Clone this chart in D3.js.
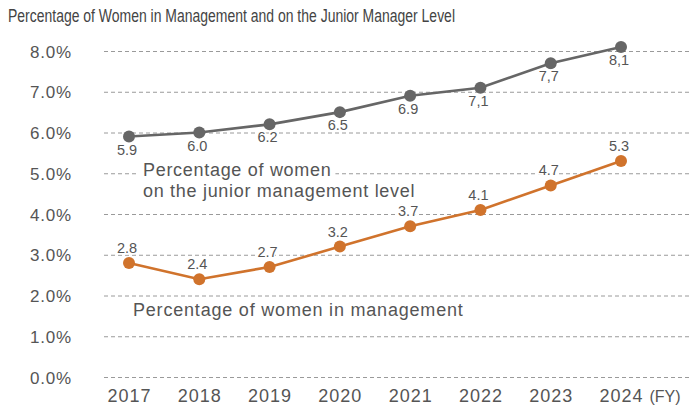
<!DOCTYPE html>
<html>
<head>
<meta charset="utf-8">
<script src="https://cdn.jsdelivr.net/npm/d3@7"></script>
<style>
  html, body { margin: 0; padding: 0; background: #fff; }
  svg { display: block; }
  text { font-family: "Liberation Sans", Arial, Helvetica, sans-serif; fill: #555; }
</style>
</head>
<body>
<svg id="chart" width="694" height="408"></svg>
<script>
// Fiscal years and the two series (percent)
const years = ["2017", "2018", "2019", "2020", "2021", "2022", "2023", "2024"];
const juniorLevel = [5.9, 6.0, 6.2, 6.5, 6.9, 7.1, 7.7, 8.1];
const juniorLabels = ["5.9", "6.0", "6.2", "6.5", "6.9", "7,1", "7,7", "8,1"];
const management = [2.8, 2.4, 2.7, 3.2, 3.7, 4.1, 4.7, 5.3];
const managementLabels = ["2.8", "2.4", "2.7", "3.2", "3.7", "4.1", "4.7", "5.3"];
const yTicks = [0, 1, 2, 3, 4, 5, 6, 7, 8];

const title = "Percentage of Women in Management and on the Junior Manager Level";
const juniorLegend = ["Percentage of women", "on the junior management level"];
const managementLegend = "Percentage of women in management";

const GREY = "#666666";
const ORANGE = "#d0732c";

const svg = d3.select("#chart");

const x = d3.scalePoint().domain(years).range([129, 621]);
const y = d3.scaleLinear().domain([0, 8]).range([377, 51]);

// Title
svg.append("text")
  .attr("x", 8).attr("y", 22)
  .attr("font-size", 17.5)
  .attr("textLength", 447)
  .attr("lengthAdjust", "spacingAndGlyphs")
  .style("fill", "#444")
  .text(title);

// Dashed grid lines
const yAxis = d3.axisLeft(y)
  .tickValues(yTicks)
  .tickSize(-(690 - 104))
  .tickPadding(32)
  .tickFormat(d => d3.format(".1f")(d) + "%");

const gy = svg.append("g")
  .attr("transform", "translate(104,0)")
  .call(yAxis);
gy.select(".domain").remove();
gy.selectAll(".tick line")
  .attr("stroke", "#9a9a9a")
  .attr("stroke-width", 1)
  .attr("stroke-dasharray", "4,3");
gy.selectAll(".tick text")
  .attr("font-size", 17)
  .attr("letter-spacing", 0.8)
  .attr("dy", "0.36em")
  .style("fill", "#555");

// Year axis
const xAxis = d3.axisBottom(x).tickSize(0).tickPadding(0);
const gx = svg.append("g")
  .attr("transform", "translate(0,389)")
  .call(xAxis);
gx.select(".domain").remove();
gx.selectAll(".tick text")
  .attr("font-size", 18)
  .attr("letter-spacing", 1)
  .attr("dy", "0.71em")
  .style("fill", "#555");

svg.append("text")
  .attr("x", 665).attr("y", 402)
  .attr("font-size", 16)
  .attr("text-anchor", "middle")
  .text("(FY)");

// Legend text for the junior level series (white backing hides the grid)
const jl = svg.append("g");
const jlText = jl.append("text")
  .attr("x", 143).attr("y", 176)
  .attr("font-size", 18)
  .attr("letter-spacing", 0.7)
  .text(juniorLegend[0]);
const bb = jlText.node().getBBox();
jl.insert("rect", "text")
  .attr("x", bb.x - 4).attr("y", bb.y)
  .attr("width", bb.width + 8).attr("height", bb.height)
  .attr("fill", "#fff");
svg.append("text")
  .attr("x", 143).attr("y", 197)
  .attr("font-size", 18)
  .attr("letter-spacing", 0.7)
  .text(juniorLegend[1]);

svg.append("text")
  .attr("x", 133).attr("y", 316)
  .attr("font-size", 18)
  .attr("letter-spacing", 0.8)
  .text(managementLegend);

// Lines and markers
const line = d3.line()
  .x((d, i) => x(years[i]))
  .y(d => y(d));

function drawSeries(values, labels, color, labelDy) {
  svg.append("path")
    .datum(values)
    .attr("fill", "none")
    .attr("stroke", color)
    .attr("stroke-width", 2.6)
    .attr("d", line);
  svg.append("g").selectAll("circle")
    .data(values)
    .join("circle")
    .attr("cx", (d, i) => x(years[i]))
    .attr("cy", d => y(d))
    .attr("r", 6)
    .attr("fill", color);
  svg.append("g").selectAll("text")
    .data(values)
    .join("text")
    .attr("x", (d, i) => x(years[i]) - 2)
    .attr("y", d => y(d) + labelDy)
    .attr("text-anchor", "middle")
    .attr("font-size", 14.5)
    .attr("stroke", "#fff")
    .attr("stroke-width", 3)
    .attr("paint-order", "stroke")
    .style("fill", "#555")
    .text((d, i) => labels[i]);
}

drawSeries(juniorLevel, juniorLabels, GREY, 18);
drawSeries(management, managementLabels, ORANGE, -10);
</script>
</body>
</html>
